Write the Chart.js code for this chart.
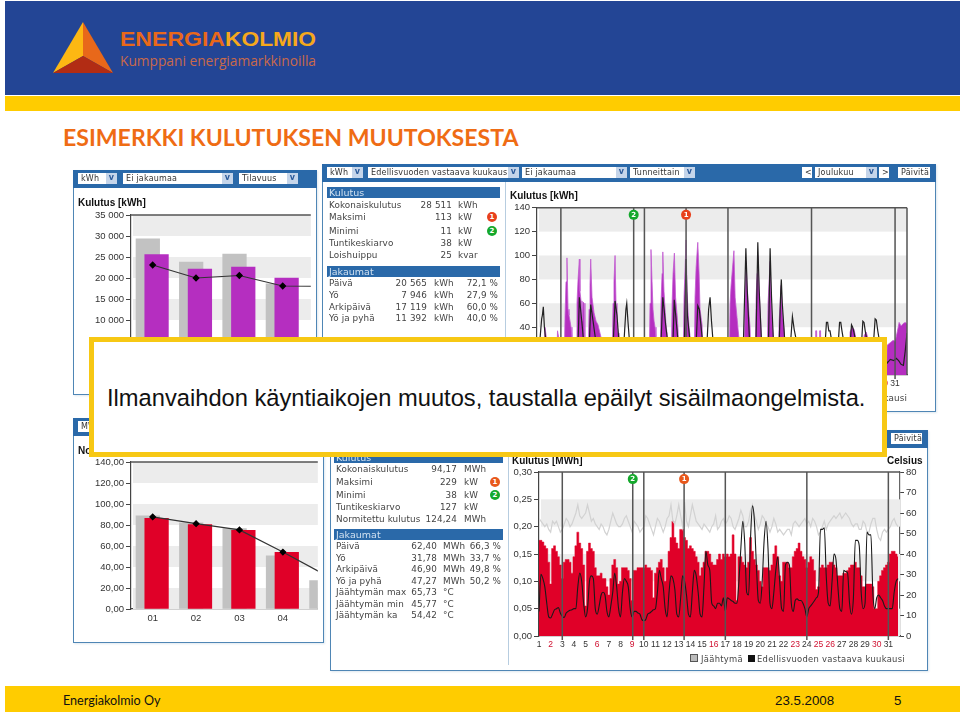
<!DOCTYPE html>
<html>
<head>
<meta charset="utf-8">
<script src="https://cdn.jsdelivr.net/npm/chart.js@4"></script>
<style>
html,body{margin:0;padding:0;background:#fff;}
#slide{position:relative;width:960px;height:716px;overflow:hidden;background:#fff;font-family:"Liberation Sans",sans-serif;}
#slide>*{position:absolute;}
.panel{background:#fff;border:1px solid #4f86b5;box-sizing:border-box;box-shadow:1px 1px 2px #dfe8ef;}
.bar{background:#2a69a9;height:18px;}
.box{background:#fff;color:#333;font:8px "DejaVu Sans",sans-serif;height:11px;line-height:11px;padding-left:3px;box-sizing:border-box;overflow:hidden;white-space:nowrap;letter-spacing:.2px;filter:blur(.3px);}
.drop{position:absolute;right:0;top:0;width:11px;height:11px;background:#c5d5ea;color:#2a5a9a;font:bold 8px "DejaVu Sans";text-align:center;line-height:10px;}
.head{background:#2a69a9;color:#cfe0f0;font:9.5px "DejaVu Sans",sans-serif;height:11px;line-height:11px;padding-left:2px;box-sizing:border-box;filter:blur(.3px);}
.t{font:8.8px "DejaVu Sans",sans-serif;color:#444;white-space:nowrap;line-height:11px;height:11px;letter-spacing:.1px;filter:blur(.3px);}
.r{text-align:right;}
.sep{width:1px;background:#b7cde0;}
.ct{font:bold 10px "Liberation Sans",sans-serif;color:#111;white-space:nowrap;filter:blur(.3px);}
.dot{width:10px;height:10px;border-radius:50%;color:#fff;font:bold 7px "DejaVu Sans";text-align:center;line-height:10px;}
canvas{position:absolute;display:block;filter:blur(.35px);}
</style>
</head>
<body>
<div id="slide"></div>
<script>
// --- tickarvot ja luokat ---
const monthLabels = ["01", "02", "03", "04", "05"];
const kwhTickLabels = ["0", "5 000", "10 000", "15 000", "20 000", "25 000", "30 000", "35 000"];
const mwhMonthTicks = ["0,00", "20,00", "40,00", "60,00", "80,00", "100,00", "120,00", "140,00"];
const mwhHourTicks = ["0,00", "0,05", "0,10", "0,15", "0,20", "0,25", "0,30"];
const dayLabels = ["1","2","3","4","5","6","7","8","9","10","11","12","13","14","15","16","17","18","19","20","21","22","23","24","25","26","27","28","29","30","31"];
const redDays = ["2","6","9","16","23","25","26","30"];
const weekLineDays = [2, 9, 16, 23, 30];

// --- kuukausipalkit, yla ---
const kwhPrevYear = [29350, 23800, 25700, 18600];
const kwhThisYear = [25550, 22150, 22600, 20000];
const kwhLine = [23100, 20000, 20600, 18100, 18000];

// --- kuukausipalkit, ala ---
const mwhPrevYear = [88.7, 82, 76.6, 50.7, 27];
const mwhThisYear = [86.4, 80.4, 75, 53.9];
const mwhLine = [87.7, 81.3, 75.3, 54.2, 32];

// --- tuntikayra, yla (paiva-akselin kohta, kW) ---
const kwhHourX = [0,.55,.67,.8,.9,1.62,1.72,1.84,1.9,2.26,2.35,2.43,2.51,2.6,2.68,2.77,2.85,2.93,3.02,3.27,3.35,3.44,3.55,3.6,3.69,3.77,3.86,3.94,4.02,4.27,4.36,4.44,4.5,4.61,4.78,4.95,5.11,5.28,5.45,5.53,6.29,6.37,6.45,6.54,6.62,6.7,6.79,6.87,6.96,9.39,9.47,9.55,9.64,9.72,9.81,9.89,9.97,10.06,10.31,10.39,10.48,10.54,10.64,10.73,10.81,10.9,10.98,11.23,11.32,11.4,11.51,11.61,11.74,11.82,11.9,12.24,12.32,12.41,12.49,12.57,12.66,12.74,12.82,12.91,13.16,13.24,13.33,13.47,13.58,13.66,13.75,13.83,13.91,16.09,16.18,16.26,16.5,16.6,16.76,16.85,16.93,17,17.35,17.43,17.52,17.6,17.77,17.85,17.94,18.27,18.36,18.44,18.5,18.61,18.69,18.77,18.86,19.28,19.36,19.53,19.62,19.7,19.78,19.87,20.2,20.29,20.45,20.54,20.62,20.71,20.79,23.3,23.35,23.43,23.47,23.64,23.68,23.76,23.8,26.15,26.23,26.4,26.57,26.73,26.82,27.24,27.41,27.58,27.75,27.83,29.25,29.34,29.59,29.84,30.01,30.18,30.34,30.51,30.68,30.84,31];
const kwhHourVals = [0,0,40,30,0,0,37,30,0,0,50,78,98,55,50,45,40,32,0,0,60,80,97,70,62,45,61,60,0,0,55,75,97,65,52,45,42,35,28,0,0,60,78,100,60,45,35,30,0,0,60,105,78,55,45,40,32,0,0,60,85,103,70,55,42,35,0,0,60,85,102,65,50,38,0,0,65,90,113,70,52,40,33,0,0,65,90,111,85,55,48,42,0,0,60,75,104,65,48,38,30,0,0,60,95,75,50,40,0,0,65,85,100,70,55,40,0,0,60,95,60,45,35,0,0,45,75,55,45,38,0,0,37,37,0,0,37,37,0,0,36,40,38,30,0,0,33,36,30,0,0,25,27,29,28,36,44,41,43,44,43];
const kwhPrevX = [0,.25,.39,.45,.53,.62,.72,3.45,3.55,3.65,3.8,3.9,4.4,4.5,4.7,4.9,6.4,6.54,6.7,6.85,7.3,7.45,7.52,7.62,7.75,10.4,10.54,10.65,10.8,10.95,11.4,11.5,11.62,11.8,12.35,12.49,12.6,12.8,13.35,13.47,13.6,13.7,13.85,14.25,14.38,14.5,14.62,14.75,17.3,17.5,17.62,17.8,18.35,18.5,18.62,18.8,19.4,19.53,19.65,19.8,20.3,20.42,20.47,20.55,20.75,21.25,21.4,21.55,21.75,24.15,24.25,24.35,24.45,24.55,24.7,25.25,25.35,25.45,25.55,25.7,26.25,26.35,26.45,26.55,26.7,27.2,27.3,27.4,27.5,27.65,28.2,28.33,28.43,28.55,28.7,29.34,29.6,29.9,30.1,30.3,30.5,30.7,30.85,31];
const kwhPrevVals = [30,30,47,50,57,40,30,30,65,55,40,28,30,59,45,30,30,62,50,30,30,55,60,45,28,30,65,55,40,28,30,63,50,30,30,97,50,30,30,58,55,45,30,28,55,65,45,28,30,106,70,30,30,111,70,30,30,106,65,30,30,70,80,60,30,28,49,38,28,28,44,44,37,37,28,28,44,44,37,28,28,42,40,36,28,28,45,44,37,28,28,47,46,37,28,10,13,12,14,12,9,8,20,35];

// --- tuntikayra, ala: kuusi lukemaa paivassa, paivat 1-31 ---
const hourThisYear = [
.175,.175,.172,.165,.16,.135, .095,.16,.165,.155,.145,.13, .105,.135,.14,.14,.135,.115,
.145,.165,.19,.17,.16,.13, .055,.155,.17,.16,.155,.125, .11,.11,.115,.105,.105,.09,
.075,.105,.13,.14,.125,.095, .10,.125,.125,.125,.12,.105, .065,.12,.12,.125,.125,.125,
.125,.13,.125,.125,.12,.07, .115,.125,.135,.14,.125,.10, .125,.155,.18,.21,.18,.17,
.16,.195,.195,.18,.175,.16, .165,.16,.155,.145,.135,.11, .125,.135,.155,.155,.15,.135,
.13,.13,.14,.15,.14,.15, .145,.15,.145,.15,.185,.15, .065,.145,.145,.135,.13,.125,
.135,.18,.155,.14,.13,.12, .10,.09,.125,.125,.125,.12, .13,.15,.165,.145,.11,.10,
.135,.135,.135,.125,.125,.145, .155,.16,.17,.155,.145,.14, .125,.135,.145,.14,.12,.085,
.09,.125,.13,.125,.125,.13, .135,.135,.13,.125,.11,.11, .11,.115,.115,.12,.125,.13,
.13,.135,.125,.125,.11,.09, .09,.095,.095,.095,.09,.05, .05,.10,.11,.12,.125,.13,
.135,.15,.155,.155,.15,.145];
const hourPrevYear = [
.045,.113,.105,.09,.06,.035, .033,.04,.048,.05,.052,.042, .036,.034,.042,.045,.047,.048,
.05,.05,.09,.115,.10,.06, .035,.05,.10,.11,.105,.05, .04,.055,.075,.08,.075,.045,
.035,.055,.08,.115,.09,.05, .035,.08,.105,.10,.09,.05, .035,.045,.045,.042,.04,.03,
.028,.03,.04,.042,.045,.048, .05,.08,.12,.105,.09,.05, .035,.08,.11,.105,.085,.04,
.035,.07,.11,.10,.075,.04, .035,.08,.12,.11,.08,.04, .035,.09,.155,.13,.12,.06,
.055,.05,.06,.06,.055,.07, .045,.07,.068,.065,.063,.06, .06,.10,.16,.21,.17,.08,
.075,.18,.238,.21,.13,.065, .06,.10,.175,.21,.16,.06, .05,.08,.12,.145,.10,.05,
.045,.13,.135,.13,.06,.045, .065,.068,.065,.065,.06,.05, .035,.05,.055,.06,.065,.07,
.08,.195,.195,.198,.11,.06, .055,.10,.15,.14,.09,.05, .045,.12,.118,.115,.06,.04,
.07,.175,.175,.165,.08,.05, .06,.19,.185,.185,.08,.05, .07,.075,.07,.065,.055,.05,
.05,.05,.05,.08,.10,.105];
const hourCooling = [
.215,.21,.205,.20,.205,.195, .19,.21,.205,.21,.20,.19, .195,.205,.215,.21,.20,.205,
.215,.225,.24,.22,.215,.22, .225,.24,.225,.21,.215,.205, .20,.195,.205,.20,.19,.185,
.195,.21,.225,.215,.205,.20, .20,.205,.215,.22,.21,.20, .19,.21,.205,.20,.19,.195,
.20,.22,.215,.205,.195,.185, .20,.215,.21,.20,.19,.20, .215,.22,.24,.21,.205,.22,
.24,.22,.20,.245,.21,.20, .22,.24,.225,.21,.205,.20, .195,.205,.20,.195,.19,.20,
.205,.22,.195,.20,.21,.215, .205,.21,.22,.215,.20,.195, .205,.215,.23,.22,.20,.20,
.21,.23,.24,.22,.21,.195, .205,.22,.215,.205,.20,.19, .20,.215,.205,.19,.195,.19,
.185,.19,.195,.195,.185,.205, .21,.205,.20,.205,.21,.215, .205,.21,.20,.215,.21,.20,
.185,.19,.20,.21,.195,.205, .21,.215,.22,.215,.22,.225, .215,.22,.225,.22,.215,.205,
.20,.205,.205,.195,.195,.21, .205,.19,.19,.205,.215,.215, .195,.18,.175,.19,.195,.19,
.195,.20,.21,.215,.205,.20];

// --- tekstit ---
const topRows1 = [["Kokonaiskulutus","28 511","kWh"],["Maksimi","113","kW"],["Minimi","11","kW"],["Tuntikeskiarvo","38","kW"],["Loishuippu","25","kvar"]];
const topRows2 = [["Päivä","20 565","kWh","72,1 %"],["Yö","7 946","kWh","27,9 %"],["Arkipäivä","17 119","kWh","60,0 %"],["Yö ja pyhä","11 392","kWh","40,0 %"]];
const botRows1 = [["Kokonaiskulutus","94,17","MWh"],["Maksimi","229","kW"],["Minimi","38","kW"],["Tuntikeskiarvo","127","kW"],["Normitettu kulutus","124,24","MWh"]];
const botRows2 = [["Päivä","62,40","MWh","66,3 %"],["Yö","31,78","MWh","33,7 %"],["Arkipäivä","46,90","MWh","49,8 %"],["Yö ja pyhä","47,27","MWh","50,2 %"],["Jäähtymän max","65,73","°C",""],["Jäähtymän min","45,77","°C",""],["Jäähtymän ka","54,42","°C",""]];

const slide = document.getElementById("slide");

function put(html, css, cls) {
    const el = document.createElement("div");
    if (cls) el.className = cls;
    el.style.cssText = css;
    el.innerHTML = html;
    slide.appendChild(el);
    return el;
}
function select(txt, x, y, w, arrow) {
    put(txt + (arrow ? '<span class="drop">v</span>' : ""), `left:${x}px;top:${y}px;width:${w}px`, "box");
}

// yläpalkki ja logo
put("", "left:5px;top:1px;width:955px;height:94px;background:#234595");
put("", "left:5px;top:96px;width:955px;height:15px;background:#ffcc00");
put(`<svg width="320" height="90" xmlns="http://www.w3.org/2000/svg">
<polygon points="83,22 83,56 53,73" fill="#fdb813"/><polygon points="83,22 113,73 83,56" fill="#e8681a"/><polygon points="53,73 113,73 83,56" fill="#b22c14"/>
<text x="120" y="46" font-family="Liberation Sans" font-size="19.5" font-weight="bold" fill="#e8681a" textLength="105" lengthAdjust="spacingAndGlyphs">ENERGIA</text>
<text x="225" y="46" font-family="Liberation Sans" font-size="19.5" font-weight="bold" fill="#f5a81c" textLength="91" lengthAdjust="spacingAndGlyphs">KOLMIO</text>
<text x="120" y="66" font-family="Open Sans" font-size="14" fill="#c9694a" textLength="196" lengthAdjust="spacingAndGlyphs">Kumppani energiamarkkinoilla</text>
</svg>`, "left:0;top:0;width:320px;height:90px");
put("ESIMERKKI KULUTUKSEN MUUTOKSESTA", 'left:63px;top:123px;font:bold 23.1px Lato,sans-serif;color:#ef6c14;white-space:nowrap');

// paneeli 1 (yla vasen)
put("", "left:73px;top:170px;width:244px;height:225px", "panel");
put("", "left:73px;top:170px;width:244px", "bar");
select("kWh", 78, 173, 39, true); select("Ei jakaumaa", 123, 173, 110, true); select("Tilavuus", 239, 173, 59, true);
put("Kulutus [kWh]", "left:78px;top:197px", "ct");

// paneeli 3 (ala vasen)
put("", "left:73px;top:418px;width:251px;height:225px", "panel");
put("", "left:73px;top:418px;width:251px", "bar");
select("MWh", 78, 421, 39, true);
put("Normitettu kulutus [MWh]", "left:78px;top:445px", "ct");

// paneeli 2 (yla oikea)
put("", "left:322px;top:164px;width:614px;height:248px", "panel");
put("", "left:322px;top:164px;width:614px", "bar");
select("kWh", 327, 167, 36, true); select("Edellisvuoden vastaava kuukausi", 368, 167, 151, true); select("Ei jakaumaa", 522, 167, 105, true); select("Tunneittain", 630, 167, 65, true);
select("&lt;", 802, 167, 10); select("Joulukuu", 815, 167, 62, true); select("&gt;", 879, 167, 10); select("Päivitä", 898, 167, 32);
put("", "left:505px;top:182px;height:228px", "sep");
put("Kulutus", "left:327px;top:187px;width:173px", "head");
topRows1.forEach((r, i) => {
    const y = [200, 212, 225.5, 238, 250][i];
    put(r[0], `left:329px;top:${y}px`, "t");
    put(r[1], `left:400px;top:${y}px;width:52px`, "t r");
    put(r[2], `left:458px;top:${y}px`, "t");
});
put("1", "left:487px;top:212px;background:#e8401c", "dot");
put("2", "left:487px;top:226px;background:#14a82c", "dot");
put("Jakaumat", "left:327px;top:266px;width:173px", "head");
topRows2.forEach((r, i) => {
    const y = 278 + i * 11.8;
    put(r[0], `left:329px;top:${y}px`, "t");
    put(r[1], `left:380px;top:${y}px;width:47px`, "t r");
    put(r[2], `left:434px;top:${y}px`, "t");
    put(r[3], `left:460px;top:${y}px;width:38px`, "t r");
});
put("Kulutus [kWh]", "left:510px;top:190px", "ct");
put("Edellisvuoden vastaava kuukausi", "left:600px;top:393px;width:307px", "t r");

// paneeli 4 (ala oikea)
put("", "left:330px;top:430px;width:598px;height:241px", "panel");
put("", "left:330px;top:430px;width:598px", "bar");
select("Päivitä", 891, 433, 31);
put("", "left:508px;top:447px;height:218px", "sep");
put("Kulutus", "left:334px;top:452px;width:169px", "head");
botRows1.forEach((r, i) => {
    const y = [464, 476.5, 489.5, 502, 513.5][i];
    put(r[0], `left:336px;top:${y}px`, "t");
    put(r[1], `left:405px;top:${y}px;width:52px`, "t r");
    put(r[2], `left:464px;top:${y}px`, "t");
});
put("1", "left:490px;top:477px;background:#e8581c", "dot");
put("2", "left:490px;top:490px;background:#14a82c", "dot");
put("Jakaumat", "left:334px;top:529px;width:169px", "head");
botRows2.forEach((r, i) => {
    const y = 541 + i * 11.5;
    put(r[0], `left:336px;top:${y}px`, "t");
    put(r[1], `left:390px;top:${y}px;width:47px`, "t r");
    put(r[2], `left:443px;top:${y}px`, "t");
    put(r[3], `left:465px;top:${y}px;width:36px`, "t r");
});
put("Kulutus [MWh]", "left:512px;top:455px", "ct");
put("Celsius", "left:887px;top:455px", "ct");
put('<span style="display:inline-block;width:6px;height:6px;background:#bbb;border:1px solid #555;margin-right:3px"></span>Jäähtymä <span style="display:inline-block;width:7px;height:7px;background:#111;margin:0 2px 0 2px"></span>Edellisvuoden vastaava kuukausi', "left:690px;top:654px;font-size:8.4px;letter-spacing:.3px", "t");

// kaavioiden apuplugin: taustaraidat, kehys, viikkoviivat ja merkit
const framePlugin = {
    id: "frame",
    beforeDatasetsDraw(chart, args, opts) {
        const { ctx, chartArea: a, scales } = chart;
        ctx.save();
        ctx.fillStyle = "#ececec";
        (opts.bands || []).forEach(b => {
            const y1 = scales.y.getPixelForValue(b[1]), y0 = scales.y.getPixelForValue(b[0]);
            ctx.fillRect(a.left + 2, y1, a.right - a.left - 2, y0 - y1);
        });
        ctx.restore();
    },
    afterDatasetsDraw(chart, args, opts) {
        const { ctx, chartArea: a, scales } = chart;
        ctx.save();
        ctx.strokeStyle = "#555";
        ctx.lineWidth = 1.5;
        ctx.beginPath();
        ctx.moveTo(a.left, a.top); ctx.lineTo(a.right, a.top);
        if (opts.rightLine) { ctx.moveTo(a.right, a.top); ctx.lineTo(a.right, a.bottom); }
        (opts.weeks || []).concat((opts.marks || []).map(m => m.day)).forEach(d => {
            const x = scales.x.getPixelForValue(d);
            ctx.moveTo(x, a.top); ctx.lineTo(x, a.bottom + 4);
        });
        ctx.stroke();
        (opts.marks || []).forEach(m => {
            const x = scales.x.getPixelForValue(m.day), y = scales.y.getPixelForValue(m.val);
            ctx.fillStyle = m.color;
            ctx.beginPath(); ctx.arc(x, y, 5, 0, Math.PI * 2); ctx.fill();
            ctx.fillStyle = "#fff";
            ctx.font = "bold 7px 'DejaVu Sans'";
            ctx.textAlign = "center"; ctx.textBaseline = "middle";
            ctx.fillText(m.text, x, y + .5);
        });
        ctx.restore();
    }
};

function newCanvas(x, y, w, h) {
    const holder = document.createElement("div");
    holder.style.cssText = `left:${x}px;top:${y}px;width:${w}px;height:${h}px`;
    const c = document.createElement("canvas");
    c.width = w; c.height = h;
    holder.appendChild(c);
    slide.appendChild(holder);
    return c;
}

const tickFont = { family: "Liberation Sans", size: 9.5 };
const dayFont = { family: "Liberation Sans", size: 8.5 };

function yAxis(max, step, labels, width) {
    return {
        min: 0, max: max,
        ticks: { stepSize: step, color: "#333", font: tickFont, padding: 2, callback: (v, i) => labels[i] },
        grid: { drawOnChartArea: false, tickLength: 5, color: "#444" },
        border: { color: "#444", width: 1.2 },
        afterFit: s => { s.width = width; }
    };
}

function monthChart(canvas, prev, cur, line, curColor, yMax, yStep, yLabels, bands, xMax) {
    new Chart(canvas, {
        type: "bar",
        data: {
            datasets: [
                { type: "line", data: line.map((v, i) => ({ x: i, y: v })), borderColor: "#333", borderWidth: 1.2, pointStyle: "rectRot", pointRadius: 2.8, pointBackgroundColor: "#000", pointBorderColor: "#000", order: 0 },
                { data: cur.map((v, i) => ({ x: i + .09, y: v })), backgroundColor: curColor, barThickness: 23.6, grouped: false, order: 1 },
                { data: prev.map((v, i) => ({ x: i - .112, y: v })), backgroundColor: "#c2c2c2", barThickness: 23.6, grouped: false, order: 2 }
            ]
        },
        options: {
            responsive: false, animation: false,
            layout: { padding: { top: 10 } },
            plugins: { legend: { display: false }, tooltip: { enabled: false }, frame: { bands: bands } },
            scales: {
                x: {
                    type: "linear", min: -.5, max: xMax, offset: false,
                    ticks: { stepSize: 1, includeBounds: false, padding: 4, color: "#333", font: tickFont, callback: v => monthLabels[v] },
                    grid: { display: false, drawTicks: false },
                    border: { color: "#444", width: 1.2 },
                    afterFit: s => { s.height = 30; }
                },
                y: yAxis(yMax, yStep, yLabels, 53)
            }
        },
        plugins: [framePlugin]
    });
}

function hourChart(canvas, datasets, yScales, frame, padTop, padRight) {
    new Chart(canvas, {
        type: "line",
        data: { datasets: datasets },
        options: {
            responsive: false, animation: false,
            layout: { padding: { top: padTop, right: padRight } },
            elements: { point: { radius: 0 } },
            plugins: { legend: { display: false }, tooltip: { enabled: false }, frame: frame },
            scales: Object.assign({
                x: {
                    type: "linear", min: 0, max: 31,
                    ticks: {
                        stepSize: 1, autoSkip: false, maxRotation: 0, includeBounds: false, padding: 4,
                        font: dayFont,
                        color: c => redDays.includes(dayLabels[c.index]) ? "#d01030" : "#333",
                        callback: v => dayLabels[v]
                    },
                    grid: { display: false, drawTicks: false },
                    border: { color: "#444", width: 1.2 },
                    afterFit: s => { s.height = 18; }
                }
            }, yScales)
        },
        plugins: [framePlugin]
    });
}

// kuukausikaaviot
monthChart(newCanvas(78, 205, 238, 187), kwhPrevYear, kwhThisYear, kwhLine, "#b52ec0", 35000, 5000, kwhTickLabels,
    [[30000, 35000], [20000, 25000], [10000, 15000], [0, 5000]], 3.648);
monthChart(newCanvas(78, 452, 245, 187), mwhPrevYear, mwhThisYear, mwhLine, "#e00028", 140, 20, mwhMonthTicks,
    [[120, 140], [80, 100], [40, 60], [0, 20]], 3.805);

// tuntikaavio yla
hourChart(newCanvas(506, 200, 407, 193), [
    { data: kwhPrevX.map((x, i) => ({ x: x, y: kwhPrevVals[i] })), borderColor: "#222", borderWidth: 1.2, order: 0 },
    { data: kwhHourX.map((x, i) => ({ x: x, y: kwhHourVals[i] })), borderColor: "#c25ad0", borderWidth: .8, backgroundColor: "#b52ec0", fill: "origin", order: 1 }
], { y: yAxis(140, 20, ["0", "20", "40", "60", "80", "100", "120", "140"], 31) },
    { bands: [[120, 140], [80, 100], [40, 60], [0, 20]], weeks: weekLineDays, rightLine: true,
      marks: [{ day: 8.1, val: 134, color: "#14a82c", text: "2" }, { day: 12.49, val: 134, color: "#e8401c", text: "1" }] }, 7, 6);

// tuntikaavio ala
const dayX = i => i / 6;
hourChart(newCanvas(508, 463, 418, 191), [
    { data: hourPrevYear.map((v, i) => ({ x: dayX(i), y: v })), borderColor: "#1a1a1a", borderWidth: 1.1, cubicInterpolationMode: "monotone", order: 0 },
    { data: hourCooling.map((v, i) => ({ x: dayX(i), y: v })), borderColor: "#d2d2d2", borderWidth: 1.2, order: 1 },
    { data: hourThisYear.map((v, i) => ({ x: dayX(i), y: v })), borderColor: "#e00028", borderWidth: .5, backgroundColor: "#e00028", fill: "origin", stepped: "middle", order: 2 }
], {
    y: yAxis(.3, .05, mwhHourTicks, 31),
    y2: {
        position: "right", min: 0, max: 80,
        ticks: { stepSize: 10, color: "#333", font: tickFont, padding: 2 },
        grid: { drawOnChartArea: false, tickLength: 4, color: "#444" },
        border: { color: "#666", width: 1.2 },
        afterFit: s => { s.width = 26; }
    }
}, { bands: [[.2, .25], [.1, .15], [0, .05]], weeks: weekLineDays, rightLine: false,
     marks: [{ day: 8.05, val: .287, color: "#14a82c", text: "2" }, { day: 12.46, val: .287, color: "#e8581c", text: "1" }] }, 9, 0);

// huomiolaatikko
put("Ilmanvaihdon käyntiaikojen muutos, taustalla epäilyt sisäilmaongelmista.",
    "left:89px;top:337px;width:798px;height:120px;box-sizing:border-box;border:5px solid #f7c814;background:#fff;font:23.7px 'Liberation Sans',sans-serif;color:#111;padding:42px 0 0 13px;white-space:nowrap;line-height:28px");

// alapalkki
put("", "left:5px;top:686px;width:955px;height:26px;background:#ffcc00");
put("Energiakolmio Oy", "left:63px;top:693px;font:12.6px Lato,sans-serif;color:#111;white-space:nowrap");
put("23.5.2008", "left:775px;top:693px;font:13.3px 'Liberation Sans',sans-serif;color:#111");
put("5", "left:894px;top:693px;font:13.3px 'Liberation Sans',sans-serif;color:#111");
</script>
</body>
</html>
